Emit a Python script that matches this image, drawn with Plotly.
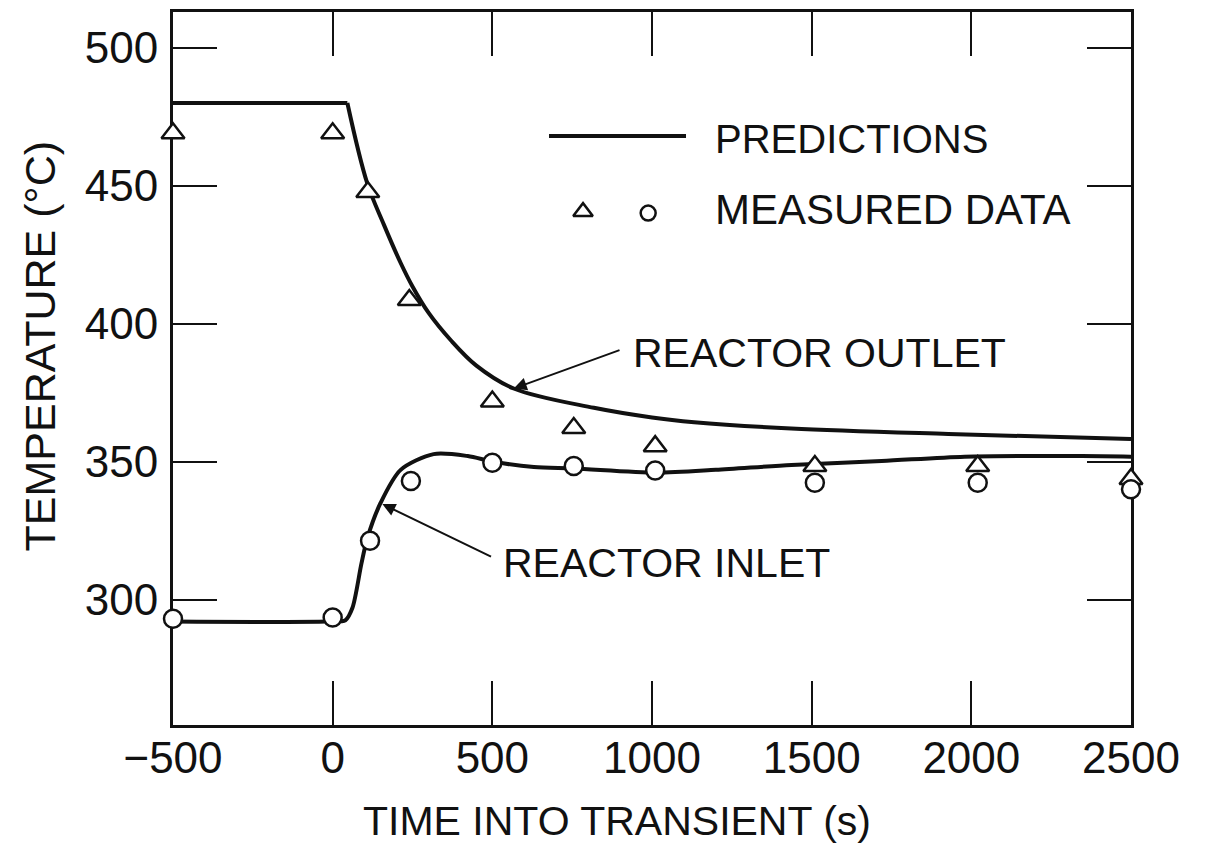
import plotly.graph_objects as go

# ---- data ----
outlet_pred_t = [-500, 46, 108, 160, 213, 250, 300, 370, 450, 567, 818, 1000, 1132, 1436, 1928, 2500]
outlet_pred_T = [480, 480, 451, 436, 422, 413.5, 404, 394, 384.8, 376.5, 369.5, 366, 364.3, 362, 360, 358.2]

inlet_pred_t = [-500, -20, 40, 62, 90, 108, 150, 213, 316, 423, 501, 630, 756, 1013, 1200, 1437, 1719, 1979, 2346, 2500]
inlet_pred_T = [292, 292, 292.5, 297, 313, 322, 335, 347, 352.7, 352, 350, 348, 347.5, 346, 347, 348.8, 350.2, 351.8, 352, 351.8]

outlet_meas_t = [-500, 0, 110, 240, 500, 755, 1010, 1510, 2020, 2500]
outlet_meas_T = [469, 469, 447.7, 408.6, 371.8, 362.2, 355.6, 348.4, 348.4, 343.7]

inlet_meas_t = [-500, 0, 117, 245, 500, 755, 1010, 1510, 2020, 2500]
inlet_meas_T = [293, 293.5, 321.3, 343, 349.6, 348.4, 346.8, 342.3, 342.3, 340]

x_ticks = [-500, 0, 500, 1000, 1500, 2000, 2500]
y_ticks = [300, 350, 400, 450, 500]

FONT = "Liberation Sans, Arial, Helvetica, sans-serif"
INK = "#111111"

fig = go.Figure()

# predictions
fig.add_trace(go.Scatter(x=outlet_pred_t[:2], y=outlet_pred_T[:2], mode="lines",
                         line=dict(color=INK, width=4), showlegend=False, hoverinfo="skip"))
fig.add_trace(go.Scatter(x=outlet_pred_t[1:], y=outlet_pred_T[1:], mode="lines",
                         line=dict(color=INK, width=4, shape="spline", smoothing=1.0),
                         showlegend=False))
fig.add_trace(go.Scatter(x=inlet_pred_t, y=inlet_pred_T, mode="lines",
                         line=dict(color=INK, width=4, shape="spline", smoothing=0.8),
                         showlegend=False))

# measured data
fig.add_trace(go.Scatter(x=outlet_meas_t, y=outlet_meas_T, mode="markers", cliponaxis=False,
                         marker=dict(symbol="triangle-up", size=20, color="white",
                                     line=dict(color=INK, width=2.5)),
                         showlegend=False))
fig.add_trace(go.Scatter(x=inlet_meas_t, y=inlet_meas_T, mode="markers", cliponaxis=False,
                         marker=dict(symbol="circle", size=18, color="white",
                                     line=dict(color=INK, width=2.5)),
                         showlegend=False))

# legend samples on an overlay unit axis (same domain as the plot area)
fig.add_trace(go.Scatter(x=[0.3925, 0.5355], y=[0.826, 0.826], mode="lines",
                         line=dict(color=INK, width=4), xaxis="x2", yaxis="y2",
                         showlegend=False, hoverinfo="skip"))
fig.add_trace(go.Scatter(x=[0.428], y=[0.72], mode="markers", xaxis="x2", yaxis="y2",
                         marker=dict(symbol="triangle-up", size=17, color="white",
                                     line=dict(color=INK, width=2.5)),
                         showlegend=False, hoverinfo="skip"))
fig.add_trace(go.Scatter(x=[0.496], y=[0.718], mode="markers", xaxis="x2", yaxis="y2",
                         marker=dict(symbol="circle", size=15, color="white",
                                     line=dict(color=INK, width=2.5)),
                         showlegend=False, hoverinfo="skip"))

axis_common = dict(showline=True, linewidth=3, linecolor=INK, mirror="allticks",
                   ticks="inside", ticklen=44, tickwidth=2, tickcolor=INK,
                   showgrid=False, zeroline=False,
                   tickfont=dict(family=FONT, size=44, color=INK), layer="below traces")

fig.update_layout(
    width=1209, height=843,
    margin=dict(l=173, r=78, t=9, b=118, pad=0),
    paper_bgcolor="white", plot_bgcolor="white",
    xaxis=dict(range=[-500, 2500], tickvals=x_ticks, **axis_common),
    yaxis=dict(range=[254.5, 513.0], tickvals=y_ticks, ticklabelstandoff=3, **axis_common),
    xaxis2=dict(range=[0, 1], overlaying="x", visible=False, anchor="y2"),
    yaxis2=dict(range=[0, 1], overlaying="y", visible=False, anchor="x2"),
    showlegend=False,
)
try:
    fig.layout.xaxis.ticklabelstandoff = -8
except Exception:
    pass

txt = dict(family=FONT, size=41, color=INK)
annotations = [
    dict(text="TIME INTO TRANSIENT (s)", xref="paper", yref="paper", x=0.4631, y=-0.1353,
         xanchor="center", yanchor="middle", showarrow=False, font=dict(family=FONT, size=41, color=INK)),
    dict(text="TEMPERATURE (°C)", xref="paper", yref="paper", x=-0.1385, y=0.5314,
         xanchor="center", yanchor="middle", textangle=-90, showarrow=False,
         font=dict(family=FONT, size=43, color=INK)),
    dict(text="PREDICTIONS", xref="paper", yref="paper", x=0.5637, y=0.8217,
         xanchor="left", yanchor="middle", showarrow=False, font=dict(family=FONT, size=40, color=INK)),
    dict(text="MEASURED DATA", xref="paper", yref="paper", x=0.5637, y=0.7228,
         xanchor="left", yanchor="middle", showarrow=False, font=dict(family=FONT, size=42, color=INK)),
    dict(text="REACTOR OUTLET", xref="x", yref="y", x=934, y=389.2,
         xanchor="left", yanchor="middle", showarrow=False, font=txt),
    dict(text="REACTOR INLET", xref="x", yref="y", x=527, y=313.4,
         xanchor="left", yanchor="middle", showarrow=False, font=txt),
    dict(text="", xref="x", yref="y", x=567, y=376.5, axref="x", ayref="y", ax=903, ay=390.6,
         showarrow=True, arrowhead=2, arrowsize=1.3, arrowwidth=2, arrowcolor=INK, standoff=0),
    dict(text="", xref="x", yref="y", x=155.6, y=334.6, axref="x", ayref="y", ax=500.6, ay=315.3,
         showarrow=True, arrowhead=2, arrowsize=1.3, arrowwidth=2, arrowcolor=INK, standoff=0),
]
fig.update_layout(annotations=annotations)

# remove the default 8px page margin so the figure fills the window exactly
fig.write_html("out.html",
               config={"displayModeBar": False},
               post_script="document.body.style.margin='0px';document.body.style.padding='0px';"
                           "document.documentElement.style.overflow='hidden';")
